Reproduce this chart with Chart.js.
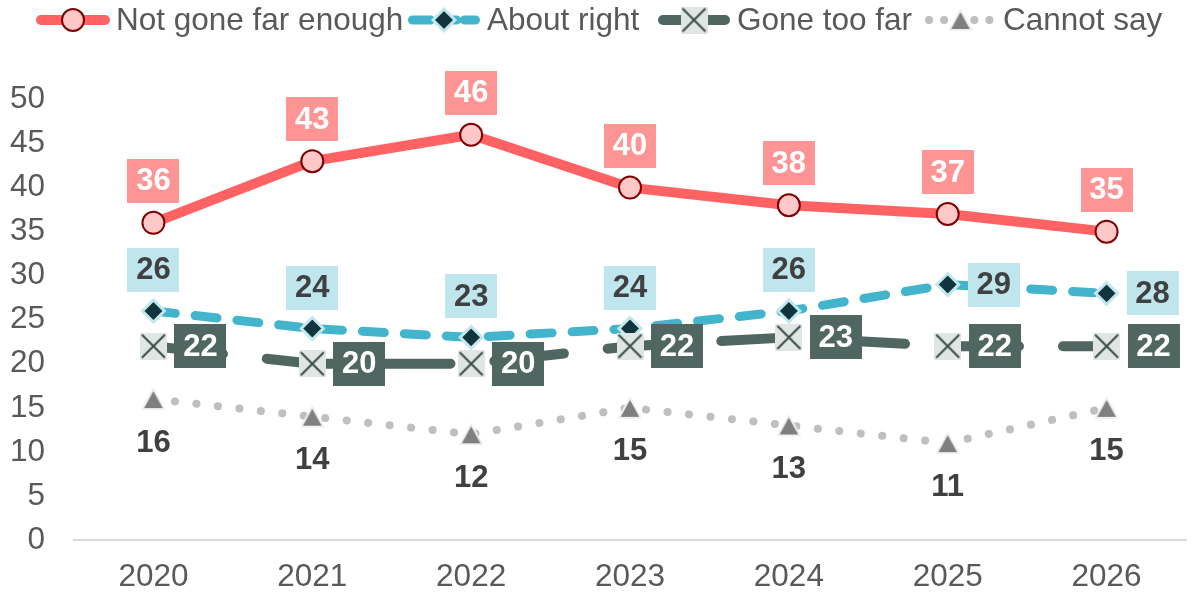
<!DOCTYPE html>
<html><head><meta charset="utf-8">
<script src="https://cdn.jsdelivr.net/npm/chart.js@4.4.1/dist/chart.umd.min.js"></script>
<style>
html,body{margin:0;padding:0;overflow:hidden;background:#fff;width:1193px;height:593px}
#wrap{position:absolute;left:0;top:0;width:1200px;height:593px}
</style>
</head><body>
<div id="wrap"><canvas id="c" width="1200" height="593"></canvas></div>
<script>
// ---- data ----
const years = ['2020','2021','2022','2023','2024','2025','2026'];
const notGoneFarEnough = [36,43,46,40,38,37,35];
const aboutRight       = [26,24,23,24,26,29,28];
const goneTooFar       = [22,20,20,22,23,22,22];
const cannotSay        = [16,14,12,15,13,11,15];
const seriesNames = ['Not gone far enough','About right','Gone too far','Cannot say'];
const yTickValues = [0,5,10,15,20,25,30,35,40,45,50];

// ---- styles ----
const FONT = '"Liberation Sans", Arial, Helvetica, sans-serif';
const TXT = '#595959';
const FSIZE = 31.5;

function makeXMarker(){
  const s = 27, c = document.createElement('canvas');
  c.width = s; c.height = s;
  const g = c.getContext('2d');
  g.fillStyle = '#dfe6e3'; g.fillRect(0,0,s,s);
  g.strokeStyle = '#3a4a46'; g.lineWidth = 2;
  g.beginPath(); g.moveTo(2,2); g.lineTo(s-2,s-2); g.moveTo(s-2,2); g.lineTo(2,s-2); g.stroke();
  return c;
}
function makeTriangle(){
  const w = 26, h = 24, c = document.createElement('canvas');
  c.width = w; c.height = h;
  const g = c.getContext('2d');
  g.beginPath(); g.moveTo(w/2, 2); g.lineTo(w-2, h-2); g.lineTo(2, h-2); g.closePath();
  g.fillStyle = '#7f7f7f'; g.fill();
  g.strokeStyle = '#f0f0f0'; g.lineWidth = 2; g.lineJoin = 'round'; g.stroke();
  return c;
}
const xMarker = makeXMarker();
const triMarker = makeTriangle();

const datasets = [
  { label: seriesNames[0], data: notGoneFarEnough, order: 4,
    borderColor:'#ff6262', borderWidth:10, borderDash:[], legendDash:[],
    pointStyle:'circle', pointRadius:11, pointBorderWidth:2,
    pointBackgroundColor:'#ffc8c8', pointBorderColor:'#7f0000',
    lbl:{pos:'top', dist:42, bg:'#ff9494', color:'#ffffff'} },
  { label: seriesNames[1], data: aboutRight, order: 3,
    borderColor:'#42b4cc', borderWidth:9, borderDash:[22,20], legendDash:[18,8],
    pointStyle:'rectRot', pointRadius:11, pointBorderWidth:3,
    pointBackgroundColor:'#12343f', pointBorderColor:'#c2e8ee',
    lbl:{pos:['top','top','top','top','top','right','right'], dist:41, distR:46, bg:'#bfe6ec', color:'#404040'} },
  { label: seriesNames[2], data: goneTooFar, order: 2,
    borderColor:'#4f6661', borderWidth:10, borderDash:[70,44], legendDash:[],
    pointStyle:xMarker, pointRadius:13, pointBorderWidth:0,
    pointBackgroundColor:'#dfe6e3', pointBorderColor:'#3a4a46',
    lbl:{pos:'right', dist:47, bg:'#4f6661', color:'#ffffff'} },
  { label: seriesNames[3], data: cannotSay, order: 1,
    borderColor:'#bfbfbf', borderWidth:8, borderDash:[0.1,21.5], legendDash:[0.1,15],
    pointStyle:triMarker, pointRadius:13, pointBorderWidth:0,
    pointBackgroundColor:'#7f7f7f', pointBorderColor:'#f2f2f2',
    lbl:{pos:'bottom', dist:43, bg:null, color:'#404040'} }
].map(d => Object.assign({
  tension:0, fill:false, clip:false,
  borderCapStyle:'round', borderJoinStyle:'round',
  pointHoverRadius:d.pointRadius
}, d));

// ---- data labels plugin ----
const labelPlugin = {
  id:'vlabels',
  afterDatasetsDraw(chart){
    const ctx = chart.ctx;
    ctx.save();
    chart.data.datasets.forEach((ds, di) => {
      const meta = chart.getDatasetMeta(di);
      const L = ds.lbl;
      meta.data.forEach((pt, i) => {
        const pos = Array.isArray(L.pos) ? L.pos[i] : L.pos;
        let cx = pt.x, cy = pt.y;
        if (pos === 'top') cy -= L.dist;
        else if (pos === 'bottom') cy += L.dist;
        else if (pos === 'right') cx += (L.distR || L.dist);
        const txt = String(ds.data[i]);
        ctx.font = 'bold 31px ' + FONT;
        const w = ctx.measureText(txt).width;
        if (L.bg) {
          ctx.fillStyle = L.bg;
          const bw = Math.round(w + 18), bh = 44;
          ctx.fillRect(Math.round(cx - bw/2), Math.round(cy - bh/2), bw, bh);
        }
        ctx.fillStyle = L.color;
        ctx.textAlign = 'center';
        ctx.textBaseline = 'middle';
        ctx.fillText(txt, cx, cy + 1);
      });
    });
    ctx.restore();
  }
};

// ---- legend plugin ----
const legendLayout = [
  {x0:36, x1:110, tx:116},
  {x0:408, x1:480, tx:487},
  {x0:658, x1:730, tx:737},
  {x0:925, x1:996, tx:1003}
];
const legendPlugin = {
  id:'clegend',
  afterDraw(chart){
    const ctx = chart.ctx, y = 20;
    ctx.save();
    chart.data.datasets.forEach((ds, i) => {
      const P = legendLayout[i];
      ctx.save();
      ctx.strokeStyle = ds.borderColor;
      ctx.lineWidth = ds.borderWidth;
      ctx.lineCap = 'round';
      ctx.setLineDash(ds.legendDash);
      ctx.beginPath(); ctx.moveTo(P.x0 + ds.borderWidth/2, y); ctx.lineTo(P.x1 - ds.borderWidth/2, y); ctx.stroke();
      ctx.restore();
      ctx.save();
      ctx.fillStyle = ds.pointBackgroundColor;
      ctx.strokeStyle = ds.pointBorderColor;
      ctx.lineWidth = ds.pointBorderWidth;
      Chart.helpers.drawPoint(ctx, {pointStyle: ds.pointStyle, radius: ds.pointRadius, rotation:0, borderWidth: ds.pointBorderWidth}, (P.x0+P.x1)/2, y);
      ctx.restore();
      ctx.fillStyle = TXT;
      ctx.font = FSIZE + 'px ' + FONT;
      ctx.textAlign = 'left';
      ctx.textBaseline = 'middle';
      ctx.fillText(ds.label, P.tx, y + 1);
    });
    ctx.restore();
  }
};

new Chart(document.getElementById('c'), {
  type:'line',
  data:{ labels: years, datasets },
  options:{
    responsive:false, animation:false, events:[],
    layout:{ padding:{ top:99.5, right:4, left:0, bottom:0 } },
    plugins:{ legend:{display:false}, tooltip:{enabled:false} },
    scales:{
      x:{
        type:'category', offset:true,
        grid:{display:false, drawTicks:false},
        border:{display:true, color:'#d9d9d9', width:2},
        ticks:{ color:TXT, font:{family:FONT, size:FSIZE}, padding:18, maxRotation:0, autoSkip:false },
        afterFit(s){ s.height = 53; }
      },
      y:{
        min:0, max:50,
        grid:{display:false, drawTicks:false},
        border:{display:false},
        afterBuildTicks(s){ s.ticks = yTickValues.map(v => ({value:v})); },
        ticks:{ color:TXT, font:{family:FONT, size:FSIZE}, padding:29, autoSkip:false },
        afterFit(s){ s.width = 74; }
      }
    }
  },
  plugins:[labelPlugin, legendPlugin]
});
</script>
</body></html>
